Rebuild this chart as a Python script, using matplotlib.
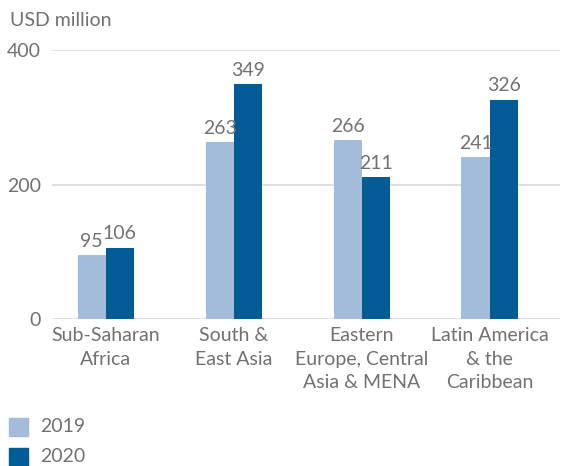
import numpy as np
import matplotlib.pyplot as plt
from matplotlib.patches import Rectangle

regions = ['Sub-Saharan\nAfrica', 'South &\nEast Asia', 'Eastern\nEurope, Central\nAsia & MENA',
           'Latin America\n& the\nCaribbean']
vals_2019 = [95, 263, 266, 241]
vals_2020 = [106, 349, 211, 326]
years = ['2019', '2020']

c19 = '#a3bcda'
c20 = '#005b97'
txt = '#717171'

plt.rcParams['font.family'] = ['Lato', 'DejaVu Sans']
fs = 14

fig = plt.figure(figsize=(5.65, 4.66), dpi=100)
ax = fig.add_axes([52 / 565, 1 - 319 / 466, 508 / 565, 269 / 466])

x = np.arange(len(regions))
w = 0.22
b1 = ax.bar(x - w / 2, vals_2019, w, color=c19, zorder=3)
b2 = ax.bar(x + w / 2, vals_2020, w, color=c20, zorder=3)
for bars, vals in ((b1, vals_2019), (b2, vals_2020)):
    for r, v in zip(bars, vals):
        ax.text(r.get_x() + r.get_width() / 2, v + 8, str(v), ha='center', va='bottom',
                fontsize=fs, color=txt)

ax.set_xlim(-0.42, 3.55)
ax.set_ylim(0, 400)
ax.set_yticks([0, 200, 400])
ax.grid(axis='y', color='#d9d9d9', linewidth=1.2, zorder=0)
ax.set_xticks(x)
ax.set_xticklabels(regions, fontsize=fs, color=txt, linespacing=1.45)
ax.tick_params(axis='both', length=0, labelsize=fs, labelcolor=txt)
ax.tick_params(axis='y', pad=8)
ax.tick_params(axis='x', pad=6)
for s in ax.spines.values():
    s.set_visible(False)

fig.text(10 / 565, 1 - 20 / 466, 'USD million', fontsize=fs, color=txt, va='center')

# legend drawn by hand at the bottom left
for i, (lab, col) in enumerate(zip(years, [c19, c20])):
    yc = 427 + i * 30
    fig.patches.append(Rectangle((9 / 565, 1 - (yc + 9) / 466), 19 / 565, 18 / 466,
                                 transform=fig.transFigure, color=col))
    fig.text(40 / 565, 1 - yc / 466, lab, fontsize=fs, color=txt, va='center')

fig.savefig('out.png', dpi=100)
